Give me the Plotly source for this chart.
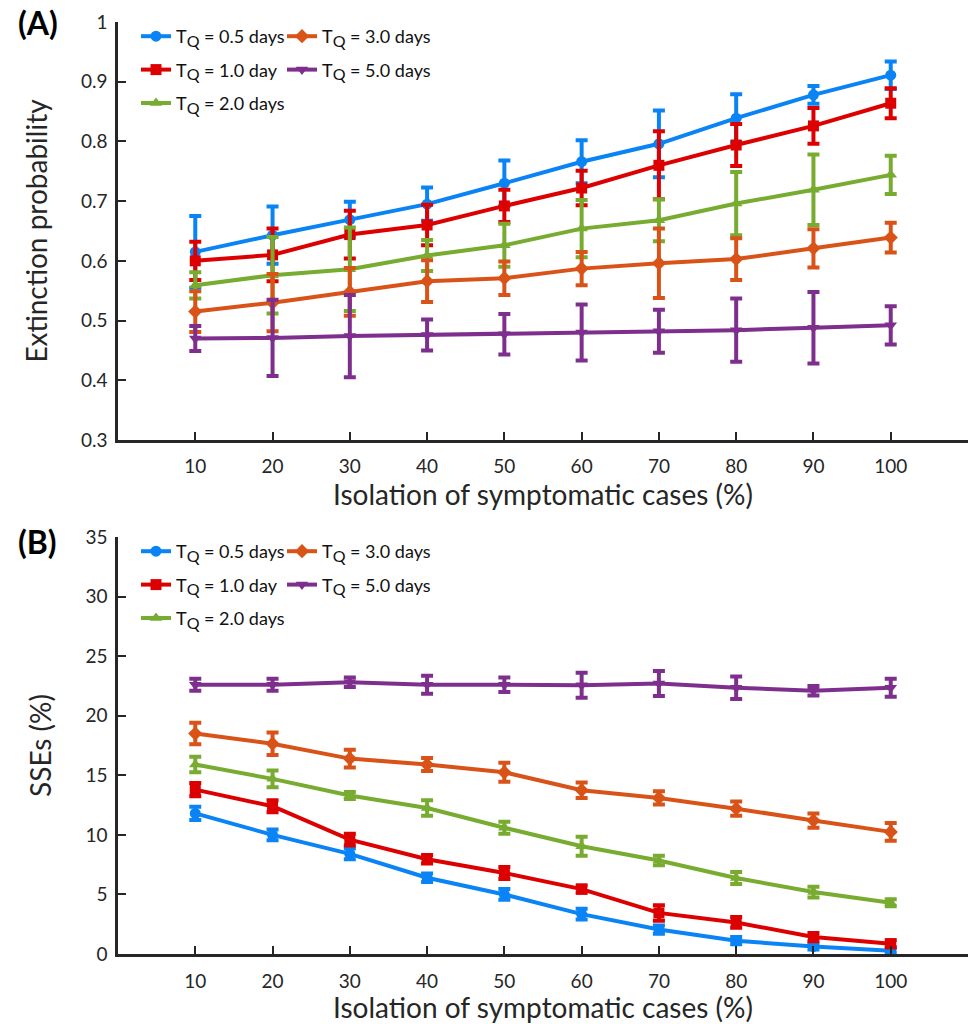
import plotly.graph_objects as go

x_iso = [10, 20, 30, 40, 50, 60, 70, 80, 90, 100]
sub_q = "<sub><span style='font-size:16px'>Q</span></sub>"
series_names = [f"T{sub_q} = 0.5 days", f"T{sub_q} = 1.0 day", f"T{sub_q} = 2.0 days",
                f"T{sub_q} = 3.0 days", f"T{sub_q} = 5.0 days"]

# Panel A: extinction probability (mean, error)
ext_05 = [0.615, 0.643, 0.669, 0.695, 0.730, 0.766, 0.796, 0.839, 0.878, 0.911]
ext_05_err = [0.060, 0.048, 0.030, 0.028, 0.038, 0.036, 0.056, 0.040, 0.015, 0.023]
ext_10 = [0.600, 0.610, 0.644, 0.660, 0.692, 0.722, 0.760, 0.794, 0.826, 0.864]
ext_10_err = [0.032, 0.044, 0.040, 0.034, 0.027, 0.029, 0.057, 0.035, 0.030, 0.025]
ext_20 = [0.559, 0.576, 0.586, 0.609, 0.626, 0.654, 0.668, 0.696, 0.719, 0.744]
ext_20_err = [0.022, 0.064, 0.070, 0.026, 0.036, 0.048, 0.035, 0.053, 0.059, 0.032]
ext_30 = [0.515, 0.530, 0.548, 0.566, 0.571, 0.587, 0.596, 0.603, 0.621, 0.639]
ext_30_err = [0.034, 0.048, 0.040, 0.035, 0.028, 0.028, 0.058, 0.035, 0.032, 0.025]
ext_50 = [0.470, 0.471, 0.474, 0.476, 0.477, 0.480, 0.482, 0.484, 0.488, 0.492]
ext_50_err = [0.021, 0.064, 0.069, 0.026, 0.034, 0.047, 0.036, 0.053, 0.060, 0.032]

# Panel B: SSEs (%) (mean, error)
sse_05 = [11.8, 10.0, 8.4, 6.4, 5.0, 3.35, 2.05, 1.12, 0.62, 0.28]
sse_05_err = [0.55, 0.45, 0.45, 0.35, 0.45, 0.45, 0.35, 0.30, 0.25, 0.20]
sse_10 = [13.8, 12.4, 9.6, 7.95, 6.8, 5.45, 3.45, 2.65, 1.42, 0.86]
sse_10_err = [0.55, 0.50, 0.50, 0.35, 0.50, 0.30, 0.65, 0.45, 0.35, 0.30]
sse_20 = [15.9, 14.7, 13.3, 12.25, 10.6, 9.05, 7.85, 6.38, 5.2, 4.3]
sse_20_err = [0.65, 0.70, 0.30, 0.65, 0.50, 0.80, 0.40, 0.50, 0.45, 0.30]
sse_30 = [18.5, 17.65, 16.4, 15.9, 15.25, 13.75, 13.1, 12.2, 11.2, 10.25]
sse_30_err = [0.90, 0.95, 0.75, 0.55, 0.80, 0.65, 0.55, 0.60, 0.60, 0.75]
sse_50 = [22.6, 22.6, 22.8, 22.6, 22.6, 22.55, 22.7, 22.35, 22.1, 22.35]
sse_50_err = [0.50, 0.50, 0.40, 0.75, 0.60, 1.05, 1.05, 0.95, 0.40, 0.75]

colors = ["#0a84f5", "#dd0000", "#77ac30", "#d95319", "#7e2f8e"]
symbols = ["circle", "square", "triangle-up", "diamond", "triangle-down"]

panelA = [(ext_05, ext_05_err), (ext_10, ext_10_err), (ext_20, ext_20_err),
          (ext_30, ext_30_err), (ext_50, ext_50_err)]
panelB = [(sse_05, sse_05_err), (sse_10, sse_10_err), (sse_20, sse_20_err),
          (sse_30, sse_30_err), (sse_50, sse_50_err)]

FONT = "Lato"
AX = "#262626"

fig = go.Figure()

def add_panel(data, xa, ya, legs, tag):
    for i, (vals, errs) in enumerate(data):
        leg = legs[0] if i < 3 else legs[1]
        fig.add_trace(go.Scatter(
            x=x_iso, y=vals, mode="lines+markers", name=series_names[i],
            xaxis=xa, yaxis=ya, legend=leg, legendgroup=f"{tag}{i}",
            line=dict(color=colors[i], width=4),
            marker=dict(symbol=symbols[i], size=11, color=colors[i]),
            error_y=dict(type="data", array=errs, visible=True, color=colors[i],
                         thickness=4, width=6),
            cliponaxis=False,
        ))

add_panel(panelA, "x", "y", ("legend", "legend2"), "a")
add_panel(panelB, "x2", "y2", ("legend3", "legend4"), "b")

W, H = 968, 1024
ML, MT, MB = 118, 22, 70
ph = H - MT - MB
pw = W - ML

def py(pix):
    return (H - MB - pix) / ph

def px(pix):
    return (pix - ML) / pw

axis_common = dict(showline=True, linecolor=AX, linewidth=2.5, ticks="inside",
                   tickcolor=AX, tickwidth=2, ticklen=8, showgrid=False, zeroline=False,
                   tickfont=dict(family=FONT, size=19, color=AX), mirror=False)

title_font = dict(family=FONT, size=28, color=AX)

leg_common = dict(bgcolor="rgba(0,0,0,0)", font=dict(family=FONT, size=18, color="#111111"),
                  orientation="v", xanchor="left", yanchor="top", traceorder="grouped",
                  tracegroupgap=7, itemwidth=30)

fig.update_layout(
    width=W, height=H, plot_bgcolor="white", paper_bgcolor="white",
    margin=dict(l=ML, r=0, t=MT, b=MB),
    xaxis=dict(domain=[0, 1], range=[0, 110], tickvals=x_iso, anchor="y", ticklabelstandoff=7,
               title=dict(text="Isolation of symptomatic cases (%)", font=title_font, standoff=6),
               **axis_common),
    yaxis=dict(domain=[py(440), 1], range=[0.3, 1], dtick=0.1, anchor="x", ticklabelstandoff=4,
               title=dict(text="Extinction probability", font=title_font, standoff=26),
               **axis_common),
    xaxis2=dict(domain=[0, 1], range=[0, 110], tickvals=x_iso, anchor="y2", ticklabelstandoff=8,
                title=dict(text="Isolation of symptomatic cases (%)", font=title_font, standoff=8),
                **axis_common),
    yaxis2=dict(domain=[0, py(537)], range=[0, 35], dtick=5, anchor="x2", ticklabelstandoff=4,
                title=dict(text="SSEs (%)", font=title_font, standoff=26),
                **axis_common),
    legend=dict(x=px(136), y=py(18), **leg_common),
    legend2=dict(x=px(282), y=py(18), **leg_common),
    legend3=dict(x=px(136), y=py(533), **leg_common),
    legend4=dict(x=px(282), y=py(533), **leg_common),
)

fig.add_annotation(text="<b>(A)</b>", x=px(16), y=py(22), xref="paper", yref="paper",
                   showarrow=False, xanchor="left", yanchor="middle",
                   font=dict(family=FONT, size=32, color="black"))
fig.add_annotation(text="<b>(B)</b>", x=px(16), y=py(541), xref="paper", yref="paper",
                   showarrow=False, xanchor="left", yanchor="middle",
                   font=dict(family=FONT, size=32, color="black"))

fig.write_html("out.html")
